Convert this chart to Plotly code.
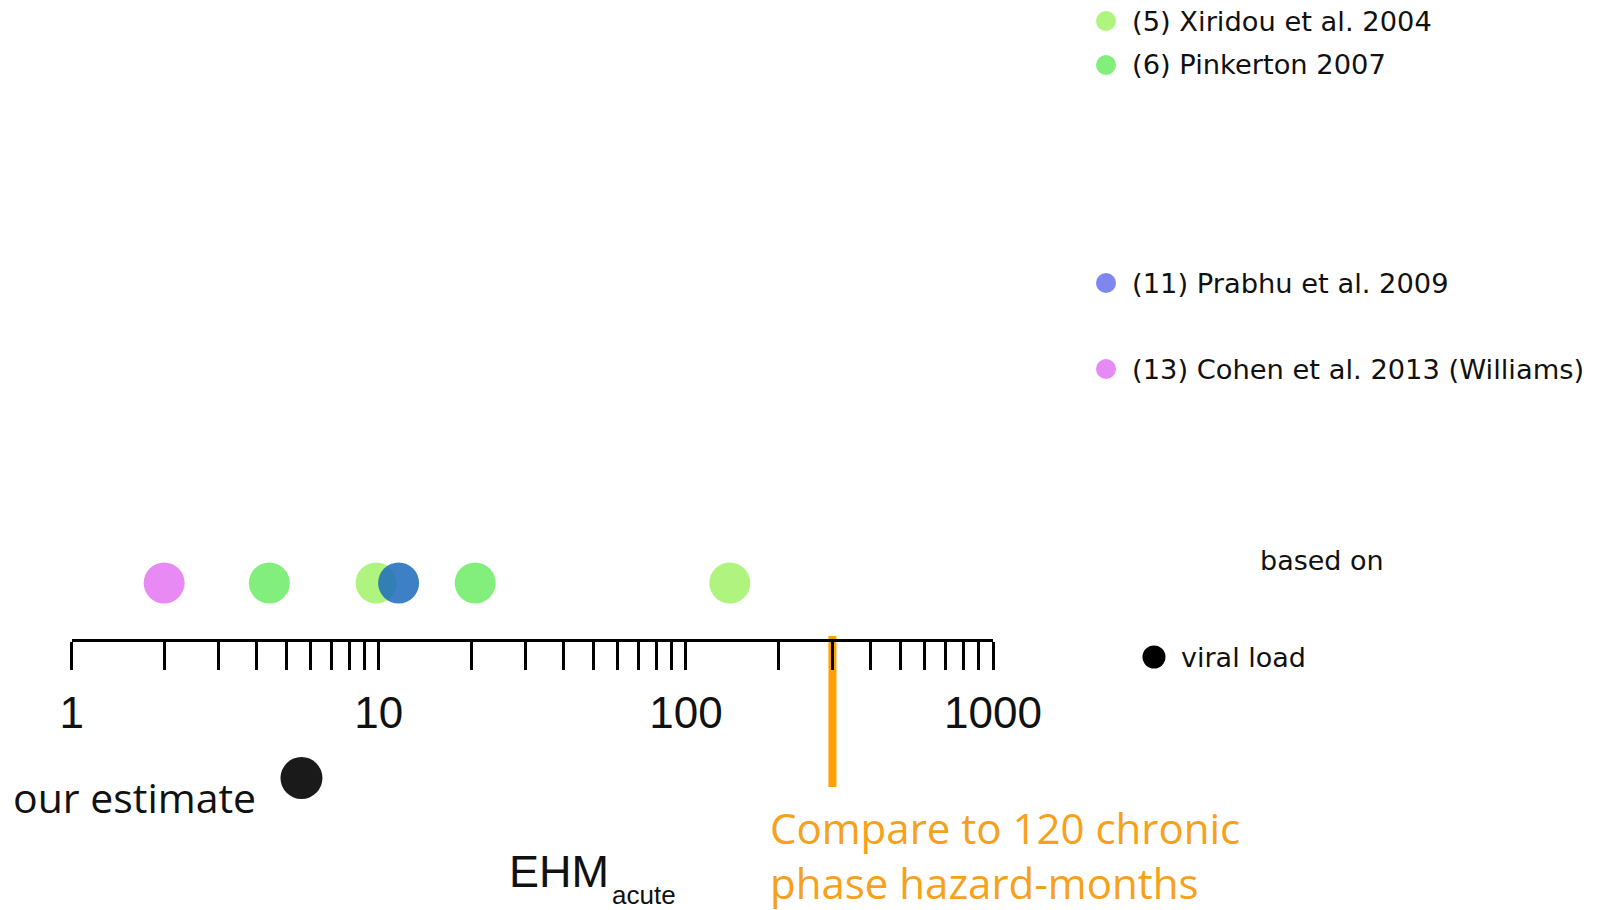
import plotly.graph_objects as go

# Published estimates of acute-phase excess hazard-months, by study
study_names = [
    "(5) Xiridou et al. 2004",
    "(6) Pinkerton 2007",
    "(11) Prabhu et al. 2009",
    "(13) Cohen et al. 2013 (Williams)",
]
study_colors = ["#aef47e", "#82ef7c", "#7f86f0", "#e88af4"]
study_dot_colors = ["#aef47e", "#82ef7c", "rgba(27,106,188,0.85)", "#e88af4"]
study_values = [
    [9.8, 139],      # Xiridou
    [4.4, 20.6],     # Pinkerton
    [11.6],          # Prabhu
    [2.0],           # Cohen
]

our_estimate = 5.6
chronic_reference = 300

tick_values = [1, 10, 100, 1000]
tick_labels = ["1", "10", "100", "1000"]
minor_ticks = [m * d for d in (1, 10, 100) for m in range(2, 10)]

# Layout constants (pixel frame of the page)
W, H = 1608, 910
AXIS_LEFT, AXIS_RIGHT = 71.7, 993.0
AXIS_Y = 640
ROW_STUDIES = 583
ROW_ESTIMATE = 778
LEGEND_X = 1106
LEGEND_ROWS = [21, 65, 283, 369]

TEXT_FONT = "DejaVu Sans"
AXIS_FONT = "Liberation Sans"
SLIDE_FONT = "Open Sans"

fig = go.Figure()

# study points on the log axis
order = [0, 1, 3, 2]  # Prabhu drawn last so it sits on top of Xiridou
for i in order:
    fig.add_trace(go.Scatter(
        x=study_values[i], y=[ROW_STUDIES] * len(study_values[i]),
        mode="markers", xaxis="x", yaxis="y",
        marker=dict(size=41, color=study_dot_colors[i], line=dict(width=0)),
        cliponaxis=False, showlegend=False, hoverinfo="x",
    ))

# our estimate
fig.add_trace(go.Scatter(
    x=[our_estimate], y=[ROW_ESTIMATE], mode="markers", xaxis="x", yaxis="y",
    marker=dict(size=42, color="#1a1a1a", line=dict(width=0)),
    cliponaxis=False, showlegend=False, hoverinfo="x",
))

# chronic-phase comparison line
fig.add_trace(go.Scatter(
    x=[chronic_reference, chronic_reference], y=[636, 787], mode="lines",
    xaxis="x", yaxis="y", line=dict(color="#ffa200", width=8),
    showlegend=False, hoverinfo="skip",
))

# legend dots (drawn in the page frame)
fig.add_trace(go.Scatter(
    x=[LEGEND_X] * len(study_names), y=LEGEND_ROWS, mode="markers",
    xaxis="x2", yaxis="y2",
    marker=dict(size=20, color=study_colors, line=dict(width=0)),
    cliponaxis=False, showlegend=False, hoverinfo="skip",
))
fig.add_trace(go.Scatter(
    x=[1154], y=[657], mode="markers", xaxis="x2", yaxis="y2",
    marker=dict(size=23, color="#000000", line=dict(width=0)),
    cliponaxis=False, showlegend=False, hoverinfo="skip",
))


def label(x, y, text, family, size, color="#111111"):
    return dict(x=x / W, y=1 - y / H, xref="paper", yref="paper", text=text,
                showarrow=False, xanchor="left", yanchor="middle",
                borderpad=0,
                font=dict(family=family, size=size, color=color))


annotations = [label(1131, yy, name, TEXT_FONT, 27.3)
               for name, yy in zip(study_names, LEGEND_ROWS)]
annotations += [
    label(1259, 560, "based on", TEXT_FONT, 27),
    label(1180, 657, "viral load", TEXT_FONT, 27),
    label(12, 797, "our estimate", SLIDE_FONT, 41),
    label(508, 871, "EHM", AXIS_FONT, 45),
    label(611, 895, "acute", AXIS_FONT, 26),
    label(769, 827, "Compare to 120 chronic", SLIDE_FONT, 42, "#f7a11a"),
    label(769, 882, "phase hazard-months", SLIDE_FONT, 42, "#f7a11a"),
]

fig.update_layout(
    width=W, height=H, autosize=False,
    margin=dict(l=0, r=0, t=0, b=0, pad=0),
    paper_bgcolor="white", plot_bgcolor="rgba(0,0,0,0)",
    showlegend=False,
    xaxis=dict(
        type="log", range=[0, 3],
        domain=[AXIS_LEFT / W, AXIS_RIGHT / W],
        anchor="free", position=1 - AXIS_Y / H, automargin=False,
        showline=True, linecolor="black", linewidth=3,
        showgrid=False, zeroline=False,
        ticks="outside", ticklen=28, tickwidth=3, tickcolor="black",
        tickvals=tick_values, ticktext=tick_labels,
        tickfont=dict(family=AXIS_FONT, size=44, color="#111111"),
        ticklabelstandoff=5,
        minor=dict(tickvals=minor_ticks, ticks="outside", ticklen=28,
                   tickwidth=3, tickcolor="black", showgrid=False),
    ),
    yaxis=dict(range=[H, 0], domain=[0, 1], visible=False, automargin=False,
               showgrid=False, zeroline=False),
    xaxis2=dict(range=[0, W], domain=[0, 1], anchor="y2", visible=False,
                automargin=False, showgrid=False, zeroline=False),
    yaxis2=dict(range=[H, 0], domain=[0, 1], anchor="x2", visible=False,
                automargin=False, showgrid=False, zeroline=False),
    annotations=annotations,
)

fig.write_html("out.html")
